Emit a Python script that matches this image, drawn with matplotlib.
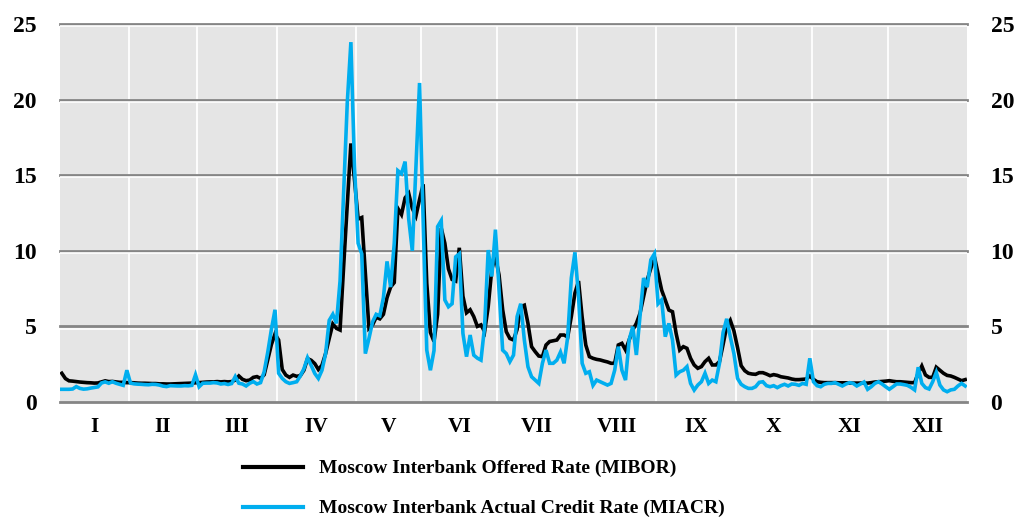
import numpy as np
import matplotlib
matplotlib.use("Agg")
import matplotlib.pyplot as plt
from matplotlib.lines import Line2D
from matplotlib.transforms import blended_transform_factory, ScaledTranslation

# Trading days per month and the labels under each month
months = ["I", "II", "III", "IV", "V", "VI", "VII", "VIII", "IX", "X", "XI", "XII"]
month_days = [19, 19, 22, 22, 18, 21, 22, 22, 22, 21, 21, 22]

# Daily rates, % (one line per month)
mibor = [
    1.9, 1.55, 1.4, 1.38, 1.35, 1.32, 1.3, 1.28, 1.27, 1.25, 1.26, 1.33, 1.4, 1.35, 1.36, 1.33, 1.3, 1.3, 1.28,
    1.28, 1.27, 1.25, 1.24, 1.24, 1.23, 1.22, 1.22, 1.2, 1.2, 1.19, 1.19, 1.2, 1.21, 1.22, 1.23, 1.24, 1.25, 1.27,
    1.28, 1.3, 1.32, 1.33, 1.33, 1.35, 1.33, 1.35, 1.33, 1.35, 1.45, 1.72, 1.5, 1.41, 1.45, 1.63, 1.68, 1.56, 1.8, 2.8, 3.8, 4.5,
    4.1, 2.15, 1.78, 1.63, 1.78, 1.7, 1.74, 2.1, 2.87, 2.76, 2.54, 2.15, 2.43, 3.2, 4.2, 5.16, 4.87, 4.76, 9.0, 13.1, 17.1, 14.7,
    12.1, 12.2, 8.5, 4.87, 5.1, 5.6, 5.5, 5.8, 6.9, 7.6, 7.9, 12.8, 12.4, 13.5, 13.8, 12.8, 12.3, 13.4,
    14.4, 7.85, 4.6, 4.0, 5.8, 11.5, 10.5, 8.8, 8.1, 8.0, 10.2, 7.0, 5.9, 6.1, 5.65, 5.0, 5.1, 4.65, 6.3, 8.8, 9.6,
    8.4, 6.1, 4.65, 4.2, 4.1, 4.8, 6.3, 6.4, 5.2, 3.66, 3.33, 3.04, 3.0, 3.77, 4.0, 4.05, 4.1, 4.43, 4.43, 4.3, 5.65, 7.2,
    8.0, 5.6, 3.77, 3.0, 2.89, 2.82, 2.78, 2.71, 2.65, 2.56, 2.56, 3.77, 3.88, 3.44, 4.1, 4.76, 5.2, 5.86, 6.97, 8.07, 8.84, 9.6,
    8.5, 7.4, 6.75, 6.08, 5.97, 4.54, 3.44, 3.66, 3.55, 2.89, 2.45, 2.23, 2.34, 2.67, 2.89, 2.45, 2.45, 2.67, 3.8, 5.0, 5.4, 4.7,
    3.6, 2.4, 2.07, 1.9, 1.85, 1.83, 1.94, 1.94, 1.85, 1.74, 1.81, 1.76, 1.67, 1.63, 1.59, 1.52, 1.48, 1.48, 1.5, 1.52, 1.72,
    1.5, 1.34, 1.3, 1.28, 1.28, 1.28, 1.28, 1.27, 1.27, 1.27, 1.25, 1.25, 1.25, 1.25, 1.25, 1.25, 1.28, 1.32, 1.34, 1.36, 1.38,
    1.41, 1.37, 1.34, 1.34, 1.32, 1.3, 1.28, 1.28, 1.9, 2.38, 1.79, 1.63, 1.63, 2.3, 2.1, 1.9, 1.76, 1.72, 1.63, 1.52, 1.41, 1.48,
]

miacr = [
    0.84, 0.84, 0.84, 0.86, 1.02, 0.9, 0.85, 0.87, 0.92, 0.96, 1.0, 1.26, 1.33, 1.24, 1.34, 1.24, 1.17, 1.1, 2.1,
    1.25, 1.2, 1.18, 1.17, 1.15, 1.14, 1.17, 1.16, 1.12, 1.05, 1.02, 1.08, 1.07, 1.06, 1.06, 1.08, 1.07, 1.1, 1.8,
    1.01, 1.24, 1.25, 1.25, 1.28, 1.26, 1.19, 1.22, 1.16, 1.22, 1.68, 1.24, 1.19, 1.06, 1.24, 1.35, 1.19, 1.28, 2.0, 3.3, 4.8, 6.1,
    1.9, 1.56, 1.34, 1.23, 1.28, 1.34, 1.72, 2.2, 2.93, 2.43, 1.89, 1.56, 2.1, 3.2, 5.4, 5.8, 5.2, 8.0, 13.9, 19.8, 23.8, 15.6,
    10.5, 9.8, 3.2, 4.2, 5.3, 5.8, 5.7, 6.9, 9.3, 7.6, 10.5, 15.3, 15.1, 15.9, 12.1, 10.0, 15.5, 21.1,
    12.0, 3.43, 2.1, 3.4, 11.6, 12.0, 6.75, 6.3, 6.5, 9.6, 9.8, 4.54, 3.0, 4.43, 3.1, 2.9, 2.77, 4.98, 10.05, 8.3, 11.4,
    7.4, 3.43, 3.2, 2.67, 3.1, 5.65, 6.5, 4.1, 2.33, 1.67, 1.45, 1.23, 2.56, 3.43, 2.56, 2.56, 2.77, 3.3, 2.56, 4.3, 8.2, 9.9,
    7.0, 2.56, 1.9, 2.0, 1.1, 1.45, 1.34, 1.23, 1.12, 1.23, 2.1, 3.66, 2.1, 1.45, 4.1, 4.98, 3.11, 5.64, 8.2, 7.6, 9.4, 9.8,
    6.5, 6.75, 4.32, 5.2, 4.1, 1.78, 2.0, 2.1, 2.34, 1.23, 0.79, 1.12, 1.34, 1.9, 1.23, 1.45, 1.34, 2.56, 4.6, 5.5, 4.3, 3.2,
    1.56, 1.17, 1.01, 0.9, 0.9, 1.01, 1.3, 1.34, 1.08, 1.01, 1.08, 0.95, 1.08, 1.17, 1.06, 1.19, 1.17, 1.1, 1.23, 1.17, 2.89,
    1.34, 1.08, 1.01, 1.17, 1.23, 1.23, 1.28, 1.17, 1.06, 1.19, 1.28, 1.23, 1.06, 1.19, 1.32, 0.84, 1.01, 1.23, 1.34, 1.19, 1.01,
    0.84, 1.01, 1.19, 1.19, 1.15, 1.1, 0.97, 0.8, 2.3, 1.23, 0.95, 0.86, 1.34, 1.96, 1.12, 0.8, 0.68, 0.8, 0.84, 1.06, 1.23, 1.06,
]

series_labels = ["Moscow Interbank Offered Rate (MIBOR)",
                 "Moscow Interbank Actual Credit Rate (MIACR)"]
y_ticks = [0, 5, 10, 15, 20, 25]

BLUE = "#00aeef"
GRID = "#858585"

plt.rcParams["font.family"] = ["Liberation Serif", "DejaVu Serif"]
plt.rcParams["font.weight"] = "bold"

fig = plt.figure(figsize=(10.15, 5.29), dpi=100)
ax = fig.add_axes([60 / 1015, 127 / 529, 907 / 1015, 378 / 529])
ax.set_facecolor("#e5e5e5")
for s in ax.spines.values():
    s.set_visible(False)

n = len(mibor)
days = np.arange(n)
ax.set_xlim(-0.5, n - 0.5)
ax.set_ylim(0, 25)

# month separators (white) and month label positions
ends = np.cumsum(month_days) - 0.5
starts = np.concatenate([[-0.5], ends[:-1]])
ax.vlines(ends[:-1], 0, 25, color="white", lw=1.3, zorder=1)

# horizontal grid: grey line with a thin white line just under it
tr = blended_transform_factory(ax.transAxes, ax.transData)
shift = ScaledTranslation(0, -2.2 / 100, fig.dpi_scale_trans)
for v in y_ticks:
    ax.plot([0, 1], [v, v], transform=tr, color=GRID, lw=2.0, zorder=2, clip_on=False)
    if v > 0:
        ax.plot([0, 1], [v, v], transform=tr + shift, color="white", lw=1.2, zorder=2)

ax.plot(days, mibor, color="black", lw=2.6, zorder=3, solid_joinstyle="miter")
ax.plot(days, miacr, color=BLUE, lw=2.6, zorder=4, solid_joinstyle="miter")

ax.set_yticks(y_ticks)
ax.tick_params(axis="y", length=0, labelleft=True, labelright=True, pad=17, labelsize=17)
ax.set_xticks((starts + ends) / 2, months)
ax.tick_params(axis="x", length=0, pad=11, labelsize=15.5)

handles = [Line2D([], [], color="black", lw=3), Line2D([], [], color=BLUE, lw=3)]
fig.legend(handles, series_labels, loc="upper left", bbox_to_anchor=(243 / 1015, 0.131),
           frameon=False, fontsize=14, handlelength=3.1, handletextpad=0.8,
           labelspacing=1.15, borderpad=0, borderaxespad=0)

fig.savefig("out.png", dpi=100)
